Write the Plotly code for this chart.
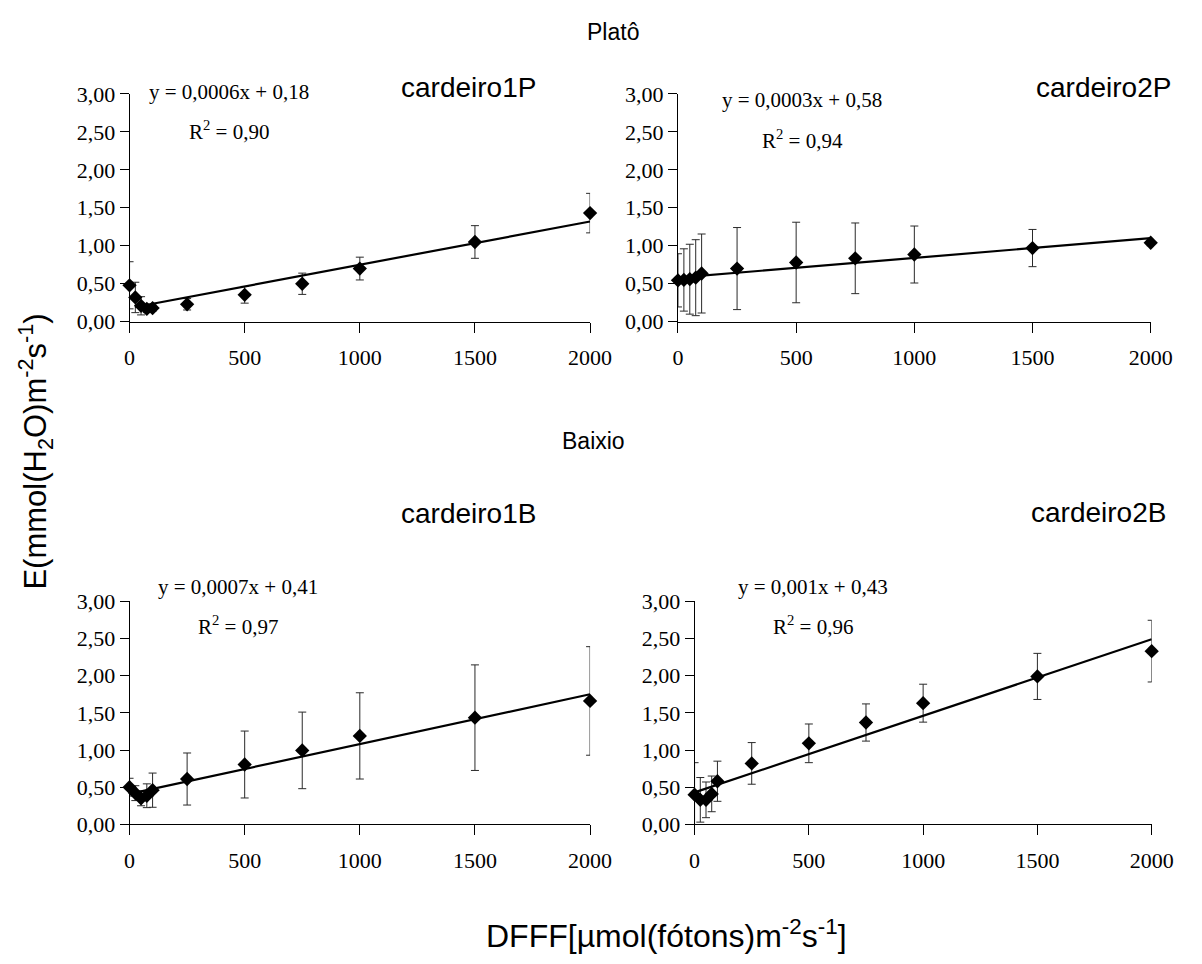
import plotly.graph_objects as go

# Light intensity levels (DFFF) shared by all four panels
dfff = [0, 25, 50, 75, 100, 250, 500, 750, 1000, 1500, 2000]

# Transpiration means and error bars per plant
e_1p = [0.48, 0.32, 0.21, 0.17, 0.18, 0.23, 0.355, 0.50, 0.70, 1.05, 1.43]
err_1p = [0.31, 0.20, 0.12, 0.05, 0.04, 0.075, 0.11, 0.14, 0.15, 0.215, 0.26]

e_2p = [0.545, 0.55, 0.56, 0.58, 0.635, 0.70, 0.78, 0.835, 0.885, 0.97, 1.04]
err_2p = [0.35, 0.41, 0.46, 0.50, 0.52, 0.54, 0.53, 0.465, 0.375, 0.245, 0.04]

e_1b = [0.50, 0.42, 0.35, 0.385, 0.46, 0.61, 0.805, 0.995, 1.19, 1.435, 1.66]
err_1b = [0.12, 0.10, 0.10, 0.16, 0.23, 0.35, 0.45, 0.515, 0.58, 0.71, 0.73]

e_2b = [0.40, 0.33, 0.33, 0.41, 0.58, 0.82, 1.09, 1.37, 1.63, 1.99, 2.33]
err_2b = [0.43, 0.30, 0.24, 0.24, 0.27, 0.28, 0.26, 0.25, 0.255, 0.31, 0.415]

# Linear trend coefficients (slope, intercept, R²) and first x of each trend line;
# the printed equations show them rounded
slopes = [0.00057, 0.00026, 0.00067, 0.00103]
intercepts = [0.18, 0.58, 0.41, 0.43]
r2 = [0.90, 0.94, 0.97, 0.96]
trend_start = [25, 0, 25, 0]

names = ["cardeiro1P", "cardeiro2P", "cardeiro1B", "cardeiro2B"]
means = [e_1p, e_2p, e_1b, e_2b]
errors = [err_1p, err_2p, err_1b, err_2b]

y_ticks = [0, 0.5, 1.0, 1.5, 2.0, 2.5, 3.0]
y_ticktext = ["0,00", "0,50", "1,00", "1,50", "2,00", "2,50", "3,00"]
x_ticks = [0, 500, 1000, 1500, 2000]

W, H = 1202, 964


def px(x):
    return x / W


def py(y):
    return (H - y) / H


# plot areas in pixels: (left, right, bottom, top)
boxes = [
    (126.5, 598, 318, 84),
    (688, 1172, 318, 84),
    (126.5, 598, 834, 605),
    (705, 1173, 834, 605),
]

SERIF = "Liberation Serif, Times New Roman, serif"
SANS = "Liberation Sans, Arial, sans-serif"

fig = go.Figure()
layout_axes = {}

for i in range(4):
    n = "" if i == 0 else str(i + 1)
    xa, ya = "x" + n, "y" + n
    fig.add_trace(go.Scatter(
        x=dfff, y=means[i], mode="markers", xaxis=xa, yaxis=ya,
        marker=dict(symbol="diamond", size=11, color="black"),
        error_y=dict(type="data", array=errors[i], symmetric=True,
                     color="#2a2a2a", thickness=1, width=4),
        cliponaxis=False, showlegend=False,
    ))
    x0, x1 = trend_start[i], dfff[-1]
    fig.add_trace(go.Scatter(
        x=[x0, x1],
        y=[slopes[i] * x0 + intercepts[i], slopes[i] * x1 + intercepts[i]],
        mode="lines", xaxis=xa, yaxis=ya,
        line=dict(color="black", width=2.2),
        cliponaxis=False, showlegend=False,
    ))
    l, r, b, t = boxes[i]
    layout_axes["xaxis" + n] = dict(
        domain=[px(l), px(r)], range=[0, 2000], anchor=ya,
        showline=True, linecolor="black", linewidth=1,
        ticks="outside", ticklen=10, tickcolor="black", tickwidth=1,
        ticklabelstandoff=6,
        tickvals=x_ticks, showgrid=False, zeroline=False,
        tickfont=dict(family=SERIF, size=22, color="black"),
    )
    layout_axes["yaxis" + n] = dict(
        domain=[py(b), py(t)], range=[0, 3], anchor=xa,
        showline=True, linecolor="black", linewidth=1,
        ticks="outside", ticklen=9, tickcolor="black", tickwidth=1,
        tickvals=y_ticks, ticktext=y_ticktext, showgrid=False, zeroline=False,
        tickfont=dict(family=SERIF, size=22, color="black"),
    )

annotations = []


def add_text(text, x, y, family, size):
    annotations.append(dict(
        text=text, x=px(x), y=py(y), xref="paper", yref="paper",
        xanchor="center", yanchor="middle", showarrow=False,
        font=dict(family=family, size=size, color="black"),
    ))


def fmt(v, nd):
    return f"{v:.{nd}f}".replace(".", ",")


# regression equations and R²
eq_pos = [(228, 82, 122), (815, 90, 131), (238, 590, 630), (826, 590, 630)]
slope_digits = [4, 4, 4, 3]
for i in range(4):
    cx, ye, yr = eq_pos[i]
    add_text(f"y = {fmt(slopes[i], slope_digits[i])}x + {fmt(intercepts[i], 2)}",
             cx, ye, SERIF, 21)
    add_text(f"R<sup>2</sup> = {fmt(r2[i], 2)}", cx, yr, SERIF, 21)

# panel titles
title_pos = [(474, 77), (1124, 77), (474, 515), (1119, 514)]
for i in range(4):
    add_text(names[i], title_pos[i][0], title_pos[i][1], SANS, 28)

# group headings
add_text("Platô", 621, 21, SANS, 23)
add_text("Baixio", 602, 440, SANS, 23)

# axis titles
add_text("DFFF[µmol(fótons)m<sup>-2</sup>s<sup>-1</sup>]", 676, 947, SANS, 32)
annotations.append(dict(
    text="E(mmol(H<sub>2</sub>O)m<sup>-2</sup>s<sup>-1</sup>)",
    x=px(30), y=py(451), xref="paper", yref="paper",
    xanchor="center", yanchor="middle", showarrow=False, textangle=-90,
    font=dict(family=SANS, size=31, color="black"),
))

fig.update_layout(
    width=W, height=H,
    margin=dict(l=0, r=0, t=0, b=0),
    paper_bgcolor="white", plot_bgcolor="white",
    showlegend=False,
    annotations=annotations,
    **layout_axes,
)

fig.write_html("out.html")
